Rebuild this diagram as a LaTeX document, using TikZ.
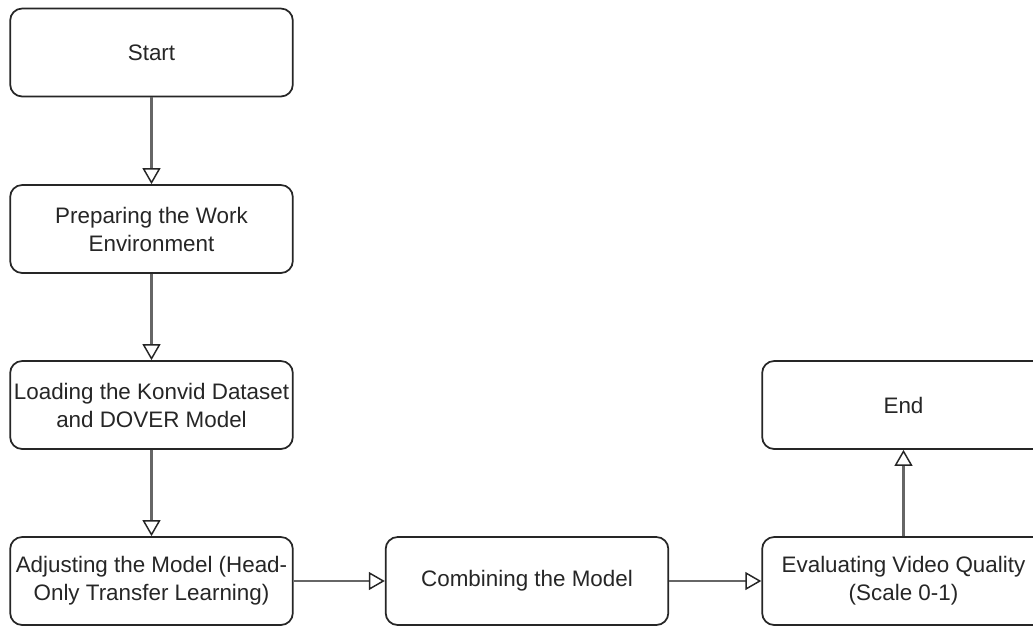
\documentclass[tikz,border=0pt]{standalone}
\usepackage{fontspec}
\setmainfont{Liberation Sans}
\usetikzlibrary{arrows.meta}

\begin{document}
\begin{tikzpicture}[x=0.75pt,y=-0.75pt,
  font=\fontsize{16.8}{21}\selectfont,
  stepbox/.style={draw=black!85,line width=1.3pt,rounded corners=9pt,fill=white,
    minimum width=212pt,minimum height=66pt,align=center,inner sep=1pt,text=black!85},
  flow/.style={draw=black!60,line width=1.8pt,
    -{Triangle[open,length=12pt,width=13.5pt,line width=1.1pt,color=black!85]}}]

\useasboundingbox (0,0) rectangle (1033,626);

\node[stepbox] (start) at (151.5,52.5) {Start};
\node[stepbox] (prep) at (151.5,229) {Preparing the Work\\Environment};
\node[stepbox] (load) at (151.5,405) {Loading the Konvid Dataset\\and DOVER Model};
\node[stepbox] (adjust) at (151.5,581) {Adjusting the Model (Head-\\Only Transfer Learning)};
\node[stepbox] (combine) at (527,581) {Combining the Model};
\node[stepbox] (evaluate) at (903.5,581) {Evaluating Video Quality\\(Scale 0-1)};
\node[stepbox] (end) at (903.5,405) {End};

\draw[flow] (start) -- (prep);
\draw[flow] (prep) -- (load);
\draw[flow] (load) -- (adjust);
\draw[flow] (adjust) -- (combine);
\draw[flow] (combine) -- (evaluate);
\draw[flow] (evaluate) -- (end);

\end{tikzpicture}
\end{document}
